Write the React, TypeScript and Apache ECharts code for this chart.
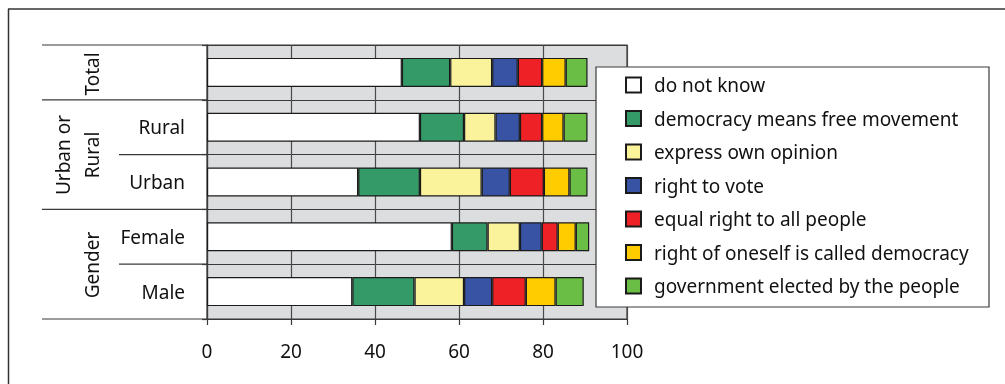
import React, { useEffect, useRef } from "react";
import * as echarts from "echarts";

const categories = ["Total", "Rural", "Urban", "Female", "Male"];
const seriesNames = [
  "do not know",
  "democracy means free movement",
  "express own opinion",
  "right to vote",
  "equal right to all people",
  "right of oneself is called democracy",
  "government elected by the people",
];
const doNotKnow = [46.4, 50.7, 36.0, 58.3, 34.6];
const freeMovement = [11.5, 10.5, 14.7, 8.5, 14.8];
const ownOpinion = [10.0, 7.5, 14.7, 7.7, 11.8];
const rightToVote = [6.1, 5.8, 6.7, 5.2, 6.7];
const equalRight = [5.8, 5.3, 8.1, 3.8, 8.0];
const rightOfOneself = [5.6, 5.1, 6.1, 4.3, 7.1];
const governmentElected = [5.2, 5.7, 4.3, 3.2, 6.7];
const seriesValues = [doNotKnow, freeMovement, ownOpinion, rightToVote, equalRight, rightOfOneself, governmentElected];
const colors = ["#FFFFFF", "#349A68", "#FAF39B", "#3953A4", "#EE2226", "#FFCC00", "#6ABD45"];
const xTicks = [0, 20, 40, 60, 80, 100];

const FONT = "Noto Sans";
const GRID_LEFT = 207;
const GRID_TOP = 45;
const GRID_W = 420;
const GRID_H = 274;

export default function App() {
  const ref = useRef<HTMLDivElement>(null);
  useEffect(() => {
    if (!ref.current) return;
    const chart = echarts.init(ref.current, null, { renderer: "svg" });
    const band = GRID_H / categories.length;
    const lineStyle = { stroke: "#3a3a3a", lineWidth: 1.2 };
    const boundaryLines: any[] = [];
    for (let i = 0; i <= categories.length; i++) {
      const y = GRID_TOP + band * i;
      const short = i === 2 || i === 4;
      boundaryLines.push({
        type: "line",
        shape: { x1: short ? 119 : 42, y1: y, x2: GRID_LEFT, y2: y },
        style: lineStyle,
        z: 5,
      });
    }
    chart.setOption({
      animation: false,
      textStyle: { fontFamily: FONT },
      grid: {
        left: GRID_LEFT,
        top: GRID_TOP,
        width: GRID_W,
        height: GRID_H,
        show: true,
        backgroundColor: "#DCDDDF",
        borderColor: "#3a3a3a",
        borderWidth: 1.2,
      },
      xAxis: {
        type: "value",
        min: 0,
        max: 100,
        interval: 20,
        axisLine: { show: true, lineStyle: { color: "#3a3a3a", width: 1.2 } },
        axisTick: { show: true, length: 6, lineStyle: { color: "#3a3a3a", width: 1.2 } },
        axisLabel: {
          margin: 22,
          fontSize: 19,
          color: "#111",
          fontFamily: FONT,
          formatter: (v: number) => (xTicks.includes(v) ? String(v) : ""),
        },
        splitLine: { show: true, lineStyle: { color: "#4a4a4a", width: 1.2 } },
      },
      yAxis: {
        type: "category",
        data: categories,
        inverse: true,
        axisLine: { show: true, lineStyle: { color: "#3a3a3a", width: 1.2 } },
        axisTick: { show: true, length: 5, lineStyle: { color: "#3a3a3a", width: 1.2 } },
        axisLabel: {
          margin: 22,
          fontSize: 19,
          color: "#111",
          fontFamily: FONT,
          formatter: (v: string) => (v === "Total" ? "" : v),
        },
        splitLine: { show: true, lineStyle: { color: "#3a3a3a", width: 1.2 } },
      },
      legend: {
        orient: "vertical",
        left: 625,
        top: 75,
        padding: 0,
        z: 20,
        itemWidth: 15,
        itemHeight: 15,
        itemGap: 13.5,
        icon: "rect",
        textStyle: { fontSize: 19, lineHeight: 20, color: "#111", fontFamily: FONT, padding: [0, 0, 0, 8] },
        data: seriesNames,
      },
      graphic: [
        {
          type: "rect",
          z: 10,
          shape: { x: 596, y: 67, width: 393, height: 240 },
          style: { fill: "#fff", stroke: "#3a3a3a", lineWidth: 1.2 },
        },
        {
          type: "line",
          shape: { x1: 8.5, y1: 9, x2: 8.5, y2: 384 },
          style: { stroke: "#333", lineWidth: 1.5 },
        },
        {
          type: "line",
          shape: { x1: 8, y1: 9, x2: 1005, y2: 9 },
          style: { stroke: "#333", lineWidth: 1.5 },
        },
        ...boundaryLines,
        {
          type: "text",
          x: 92,
          y: 74,
          rotation: Math.PI / 2,
          style: { text: "Total", fontSize: 19, fontFamily: FONT, fill: "#111", align: "center", verticalAlign: "middle" },
        },
        {
          type: "text",
          x: 77.5,
          y: 155,
          rotation: Math.PI / 2,
          style: {
            text: "Urban or\nRural",
            fontSize: 19,
            lineHeight: 29,
            fontFamily: FONT,
            fill: "#111",
            align: "center",
            verticalAlign: "middle",
          },
        },
        {
          type: "text",
          x: 92,
          y: 265,
          rotation: Math.PI / 2,
          style: { text: "Gender", fontSize: 19, fontFamily: FONT, fill: "#111", align: "center", verticalAlign: "middle" },
        },
      ],
      series: seriesNames.map((name, i) => ({
        name,
        type: "bar",
        stack: "all",
        barWidth: 29,
        data: seriesValues[i],
        itemStyle: { color: colors[i], borderColor: "#1a1a1a", borderWidth: 1.2 },
      })),
    });
    return () => chart.dispose();
  }, []);
  return <div ref={ref} style={{ position: "fixed", left: 0, top: 0, width: 1005, height: 384 }} />;
}
